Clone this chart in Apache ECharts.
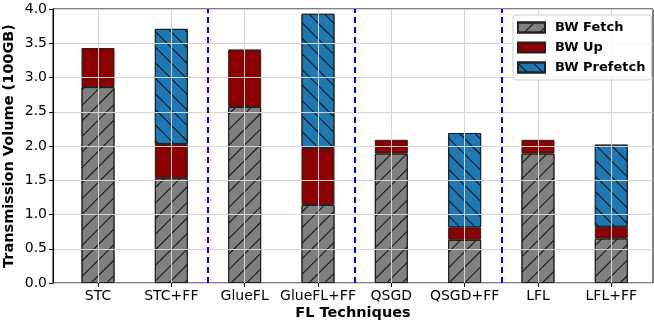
<!DOCTYPE html>
<html><head><meta charset="utf-8">
<script src="https://cdn.jsdelivr.net/npm/echarts@6/dist/echarts.min.js"></script>
<style>html,body{margin:0;padding:0;background:#fff}#c{width:654px;height:322px}</style>
</head><body><div id="c"></div>
<script>
const categories = ['STC','STC+FF','GlueFL','GlueFL+FF','QSGD','QSGD+FF','LFL','LFL+FF'];
const bwFetch    = [2.86, 1.53, 2.57, 1.14, 1.89, 0.63, 1.89, 0.65];
const bwUp       = [0.57, 0.50, 0.84, 0.83, 0.20, 0.18, 0.20, 0.17];
const bwPrefetch = [null, 1.68, null, 1.96, null, 1.38, null, 1.20];
const yTicks = [0,0.5,1,1.5,2,2.5,3,3.5,4];
const separators = [1.5, 3.5, 5.5];

const FONT = 'DejaVu Sans';
const chart = echarts.init(document.getElementById('c'), null, {renderer:'canvas'});
const hatch = (rot) => ({symbol:'rect', symbolSize:1, dashArrayX:[[1,0]], dashArrayY:[1,10], rotation:rot, color:'rgba(0,0,0,0.9)'});
const toData = arr => arr.map(v => v==null ? '-' : v);
const common = {type:'bar', stack:'t', xAxisIndex:1, yAxisIndex:1, barWidth:33, clip:false, z:2};

chart.setOption({
  animation:false,
  grid:[
    {left:53, right:1, top:9, bottom:39, show:true, borderColor:'#000', borderWidth:1, backgroundColor:'transparent', outerBoundsMode:'none', containLabel:false},
    {left:98, right:42.7, top:9, bottom:39, outerBoundsMode:'none', containLabel:false}
  ],
  xAxis:[
    {gridIndex:0, type:'value', min:0, max:1, show:true, axisLine:{show:false}, axisTick:{show:false}, axisLabel:{show:false}, splitLine:{show:false},
     name:'FL Techniques', nameLocation:'middle', nameGap:23, nameTextStyle:{fontFamily:FONT, fontWeight:'bold', fontSize:14.5, color:'#000'}},
    {gridIndex:1, type:'category', data:categories, boundaryGap:false, z:3,
     axisLine:{show:false}, axisTick:{show:true, length:4, lineStyle:{color:'#000'}},
     axisLabel:{fontFamily:FONT, fontSize:14, color:'#000', margin:6, interval:0, showMinLabel:true, showMaxLabel:true},
     splitLine:{show:true, interval:0, lineStyle:{color:'#d4d4d4', width:1}}},
    {gridIndex:1, type:'value', min:0, max:7, show:false}
  ],
  yAxis:[
    {gridIndex:0, type:'value', min:0, max:4, interval:0.5, z:3,
     axisLine:{show:true, lineStyle:{color:'#000'}}, axisTick:{show:true, length:4, lineStyle:{color:'#000'}},
     axisLabel:{formatter:v=>v.toFixed(1), fontFamily:FONT, fontSize:14, color:'#000', margin:6},
     splitLine:{show:true, lineStyle:{color:'#d4d4d4', width:1}},
     name:'Transmission Volume (100GB)', nameLocation:'middle', nameGap:36, nameMoveOverlap:false,
     nameTextStyle:{fontFamily:FONT, fontWeight:'bold', fontSize:14.5, color:'#000'}},
    {gridIndex:1, type:'value', min:0, max:4, show:false}
  ],
  legend:{
    left:513, top:15, orient:'vertical', itemWidth:27, itemHeight:10, itemGap:7,
    padding:[6,6,6,4], borderColor:'#ccc', borderWidth:1, borderRadius:3, backgroundColor:'rgba(255,255,255,0.85)',
    icon:'rect', textStyle:{fontFamily:FONT, fontWeight:'bold', fontSize:13, color:'#000', padding:[0,0,0,5]},
    data:['BW Fetch','BW Up','BW Prefetch']
  },
  series:[
    Object.assign({}, common, {name:'BW Fetch', data:toData(bwFetch),
      itemStyle:{color:'#808080', borderColor:'#222', borderWidth:1, decal:hatch(-Math.PI/4)}}),
    Object.assign({}, common, {name:'BW Up', data:toData(bwUp),
      itemStyle:{color:'#8b0000', borderColor:'#222', borderWidth:1}}),
    Object.assign({}, common, {name:'BW Prefetch', data:toData(bwPrefetch),
      itemStyle:{color:'#1f77b4', borderColor:'#222', borderWidth:1, decal:hatch(Math.PI/4)}}),
    {type:'scatter', name:'sep', xAxisIndex:2, yAxisIndex:1, data:[], symbolSize:0, z:4,
     markLine:{silent:true, symbol:'none', label:{show:false},
       lineStyle:{color:'#0000ff', type:[6,4], width:2},
       data: separators.map(x=>({xAxis:x}))}}
  ]
});
</script></body></html>
